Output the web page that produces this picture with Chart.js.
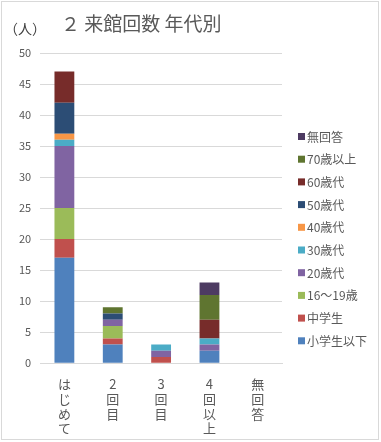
<!DOCTYPE html>
<html>
<head>
<meta charset="utf-8">
<script src="https://cdn.jsdelivr.net/npm/chart.js@4"></script>
<style>
  html, body { margin: 0; padding: 0; background: #fff; }
  #wrap { width: 381px; height: 442px; position: relative; }
</style>
</head>
<body>
<div id="wrap"><canvas id="chart" width="381" height="442"></canvas></div>
<script>
// 来館回数のカテゴリ（縦書きラベル用に1文字ずつ）
const categories = [
  ["は", "じ", "め", "て"],
  ["2", "回", "目"],
  ["3", "回", "目"],
  ["4", "回", "以", "上"],
  ["無", "回", "答"]
];

const shogakuseiIka = [17, 3, 0, 2, 0];
const chugakusei    = [3, 1, 1, 0, 0];
const age16to19     = [5, 2, 0, 0, 0];
const age20s        = [10, 1, 1, 1, 0];
const age30s        = [1, 0, 1, 1, 0];
const age40s        = [1, 0, 0, 0, 0];
const age50s        = [5, 1, 0, 0, 0];
const age60s        = [5, 0, 0, 3, 0];
const age70plus     = [0, 1, 0, 4, 0];
const mukaitou      = [0, 0, 0, 2, 0];

const seriesNames = ["小学生以下", "中学生", "16～19歳", "20歳代", "30歳代", "40歳代", "50歳代", "60歳代", "70歳以上", "無回答"];
const seriesValues = [shogakuseiIka, chugakusei, age16to19, age20s, age30s, age40s, age50s, age60s, age70plus, mukaitou];
const seriesColors = ["#4F81BD", "#C0504D", "#9BBB59", "#8064A2", "#4BACC6", "#F79646", "#2C4D75", "#772C2A", "#5F7530", "#4D3B62"];

const yTicks = { min: 0, max: 50, step: 5 };

const textColor = "#595959";
const jpFont = "'Noto Sans CJK JP', 'Noto Sans', sans-serif";

// タイトル・単位・凡例・外枠を描く
const decorations = {
  id: "decorations",
  afterDraw(c) {
    const ctx = c.ctx;
    ctx.save();
    ctx.strokeStyle = "#d9d9d9";
    ctx.lineWidth = 1;
    ctx.strokeRect(1.5, 1.5, 377, 438);

    ctx.fillStyle = textColor;
    ctx.textBaseline = "middle";
    ctx.textAlign = "left";
    ctx.font = "19px " + jpFont;
    ctx.fillText("２ 来館回数 年代別", 61, 24);

    ctx.fillStyle = "#404040";
    ctx.font = "14px " + jpFont;
    ctx.fillText("（人）", 4, 29);

    // 凡例（逆順）
    ctx.font = "12px " + jpFont;
    const x = c.chartArea.right + 16;
    let y = 136;
    for (let i = c.data.datasets.length - 1; i >= 0; i--) {
      const ds = c.data.datasets[i];
      ctx.fillStyle = ds.backgroundColor;
      ctx.fillRect(x, y - 3, 7, 7);
      ctx.fillStyle = textColor;
      ctx.fillText(ds.label, x + 9, y + 1);
      y += 22.7;
    }
    ctx.restore();
  }
};

new Chart(document.getElementById("chart"), {
  type: "bar",
  data: {
    labels: categories,
    datasets: seriesNames.map((name, i) => ({
      label: name,
      data: seriesValues[i],
      backgroundColor: seriesColors[i],
      categoryPercentage: 1,
      barPercentage: 0.41
    }))
  },
  options: {
    responsive: false,
    animation: false,
    layout: { padding: { top: 53, right: 99, left: 10, bottom: 1 } },
    plugins: {
      legend: { display: false },
      tooltip: { enabled: false }
    },
    scales: {
      x: {
        stacked: true,
        grid: { display: false },
        border: { display: true, color: "#d9d9d9" },
        ticks: {
          color: textColor,
          maxRotation: 0,
          autoSkip: false,
          padding: 5,
          font: { family: jpFont, size: 13, lineHeight: 1.15 }
        }
      },
      y: {
        stacked: true,
        min: yTicks.min,
        max: yTicks.max,
        grid: { color: "#d9d9d9", drawTicks: false },
        border: { display: false },
        ticks: {
          stepSize: yTicks.step,
          color: textColor,
          padding: 9,
          font: { family: jpFont, size: 11 }
        }
      }
    }
  },
  plugins: [decorations]
});
</script>
</body>
</html>
